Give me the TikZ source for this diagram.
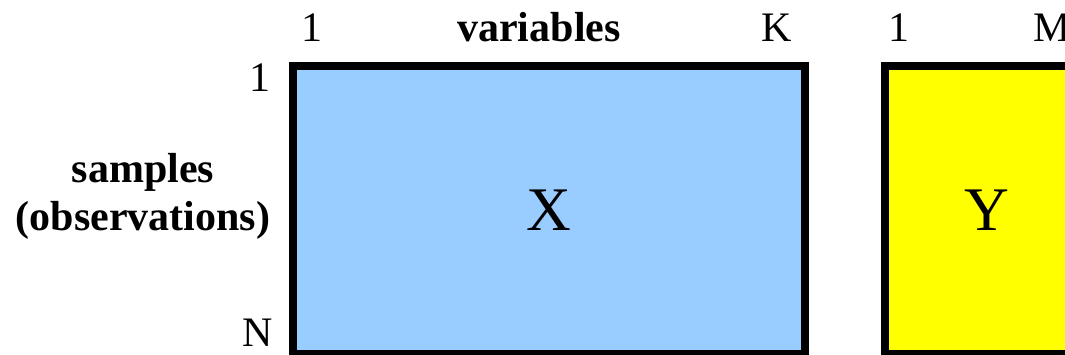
\documentclass[tikz,border=0pt]{standalone}
\usepackage{fontspec}
\setmainfont{Liberation Serif}[BoldFont={Liberation Serif Bold}]
\usetikzlibrary{positioning}
\definecolor{matblue}{HTML}{99CCFF}
\definecolor{matyellow}{HTML}{FFFF00}

\begin{document}
\begin{tikzpicture}[x=1pt,y=-1pt,
  matbox/.style={draw=black,line width=8pt,inner sep=0pt,minimum height=288pt,
    font=\fontsize{62}{70}\selectfont},
  idx/.style={inner sep=0pt,font=\fontsize{42}{48}\selectfont},
  lab/.style={inner sep=0pt,align=center,font=\fontsize{42}{48}\selectfont\bfseries}]
  \useasboundingbox (0,0) rectangle (1065,355);
  \clip (0,0) rectangle (1065,355);
  % data blocks
  \node[matbox,fill=matblue,minimum width=512pt] (X) at (549,210) {X};
  \node[matbox,fill=matyellow,minimum width=204pt] (Y) at (987,210) {Y};
  % column indices
  \node[idx] (xfirst) at (312,28) {1};
  \node[idx] (xlast) at (777,28) {K};
  \node[lab] (vars) at (539,27) {variables};
  \node[idx] (yfirst) at (899,28) {1};
  \node[idx] (ylast) at (1052,28) {M};
  % row indices
  \node[idx] (rfirst) at (260,78) {1};
  \node[idx] (rlast) at (258,333) {N};
  \node[lab] (samp) at (143,196) {samples\\(observations)};
\end{tikzpicture}
\end{document}
